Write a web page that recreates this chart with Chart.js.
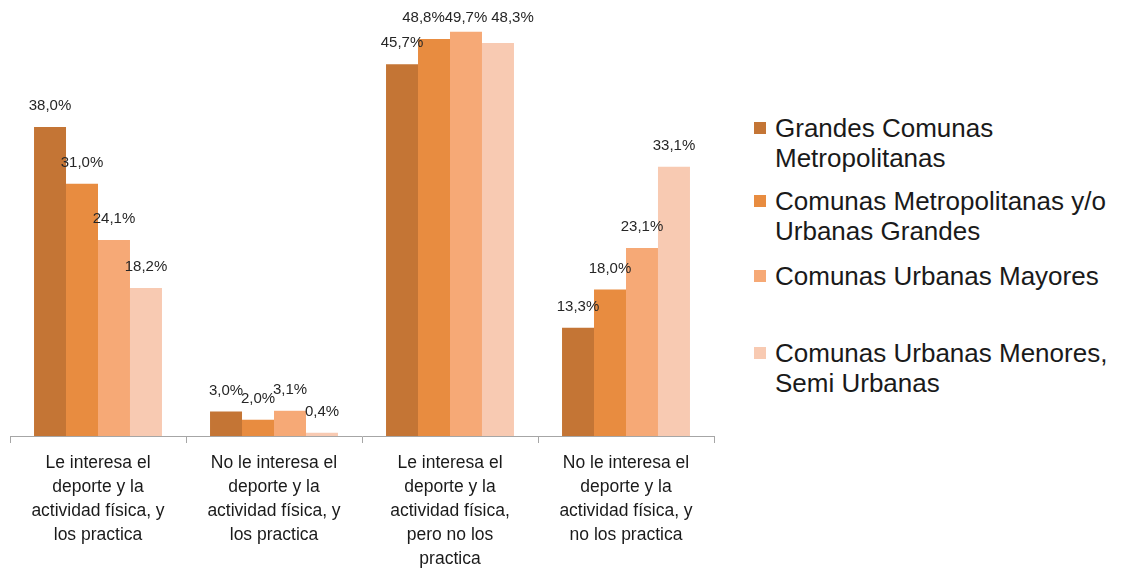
<!DOCTYPE html>
<html>
<head>
<meta charset="utf-8">
<script src="https://cdn.jsdelivr.net/npm/chart.js@4"></script>
<style>
    body { margin: 0; background: #fff; }
    #wrap { position: relative; width: 1122px; height: 571px; }
    #chart-box { position: absolute; left: 0; top: 0; width: 730px; height: 571px; }
    #legend { position: absolute; left: 754px; top: 0; font-family: "Liberation Sans", Arial, sans-serif; font-size: 26px; line-height: 30px; color: #1a1a1a; }
    .item { position: absolute; left: 0; white-space: nowrap; }
    .item .box { position: absolute; left: 0; top: 9px; width: 12px; height: 12px; }
    .item .txt { position: absolute; left: 21px; top: 0; }
</style>
</head>
<body>
<div id="wrap">
    <div id="chart-box"><canvas id="chart"></canvas></div>
    <div id="legend"></div>
</div>
<script>
// categories (x axis labels, one line per array entry)
const categories = [
    ['Le interesa el', 'deporte y la', 'actividad física, y', 'los practica'],
    ['No le interesa el', 'deporte y la', 'actividad física, y', 'los practica'],
    ['Le interesa el', 'deporte y la', 'actividad física,', 'pero no los', 'practica'],
    ['No le interesa el', 'deporte y la', 'actividad física, y', 'no los practica']
];

const seriesNames = [
    ['Grandes Comunas', 'Metropolitanas'],
    ['Comunas Metropolitanas y/o', 'Urbanas Grandes'],
    ['Comunas Urbanas Mayores'],
    ['Comunas Urbanas Menores,', 'Semi Urbanas']
];

const grandesMetro = [38.0, 3.0, 45.7, 13.3];
const metroUrbanasGrandes = [31.0, 2.0, 48.8, 18.0];
const urbanasMayores = [24.1, 3.1, 49.7, 23.1];
const urbanasMenores = [18.2, 0.4, 48.3, 33.1];

const colors = ['#C47535', '#E88C40', '#F6A976', '#F8CAB2'];

// legend tops (first line of each entry), in px
const legendTops = [113, 186, 261, 338];

const seriesValues = [grandesMetro, metroUrbanasGrandes, urbanasMayores, urbanasMenores];

function fmt(v) {
    return v.toFixed(1).replace('.', ',') + '%';
}

// value labels above each bar; labels that would go past the top are
// lined up on one row and pushed apart so they don't overlap
const valueLabels = {
    id: 'valueLabels',
    afterDatasetsDraw(chart) {
        const ctx = chart.ctx;
        const topRow = 18;
        ctx.save();
        ctx.font = '15px "Liberation Sans", Arial, sans-serif';
        ctx.fillStyle = '#262626';
        ctx.textAlign = 'center';
        ctx.textBaseline = 'middle';

        const nCat = chart.data.labels.length;
        for (let j = 0; j < nCat; j++) {
            const labels = chart.data.datasets.map((ds, i) => {
                const bar = chart.getDatasetMeta(i).data[j];
                const text = fmt(ds.data[j]);
                let y = bar.y - 21;
                const clamped = y < topRow + 8;
                if (clamped) y = topRow;
                return { text, x: bar.x, y, w: ctx.measureText(text).width, clamped, v: ds.data[j] };
            });

            const row = labels.filter(l => l.clamped);
            if (row.length > 1) {
                // keep the tallest fixed, push the others outwards
                let k = 0;
                row.forEach((l, idx) => { if (l.v > row[k].v) k = idx; });
                for (let a = k - 1; a >= 0; a--) {
                    const minX = row[a + 1].x - (row[a + 1].w + row[a].w) / 2;
                    if (row[a].x > minX) row[a].x = minX;
                }
                for (let a = k + 1; a < row.length; a++) {
                    const minX = row[a - 1].x + (row[a - 1].w + row[a].w) / 2 + 4;
                    if (row[a].x < minX) row[a].x = minX;
                }
            }
            labels.forEach(l => ctx.fillText(l.text, l.x, l.y));
        }
        ctx.restore();
    }
};

new Chart(document.getElementById('chart'), {
    type: 'bar',
    data: {
        labels: categories,
        datasets: seriesValues.map((vals, i) => ({
            label: seriesNames[i].join(' '),
            data: vals,
            backgroundColor: colors[i],
            borderWidth: 0,
            categoryPercentage: 0.727,
            barPercentage: 1.0
        }))
    },
    options: {
        responsive: true,
        maintainAspectRatio: false,
        animation: false,
        layout: { padding: { left: 10, right: 16, top: 0, bottom: 0 } },
        plugins: {
            legend: { display: false },
            tooltip: { enabled: false }
        },
        scales: {
            y: { display: false, min: 0, max: 53.6 },
            x: {
                border: { display: true, color: '#A6A6A6', width: 1 },
                grid: { display: true, drawOnChartArea: false, drawTicks: true, tickLength: 7, color: '#A6A6A6', offset: true },
                ticks: {
                    autoSkip: false,
                    maxRotation: 0,
                    padding: 8,
                    color: '#1a1a1a',
                    font: { family: '"Liberation Sans", Arial, sans-serif', size: 17.5, lineHeight: 1.37 }
                },
                afterFit(scale) { scale.height = 135; }
            }
        }
    },
    plugins: [valueLabels]
});

// html legend
const legend = document.getElementById('legend');
seriesNames.forEach((lines, i) => {
    const item = document.createElement('div');
    item.className = 'item';
    item.style.top = legendTops[i] + 'px';
    item.innerHTML = `<span class="box" style="background:${colors[i]}"></span><span class="txt">${lines.join('<br>')}</span>`;
    legend.appendChild(item);
});
</script>
</body>
</html>
